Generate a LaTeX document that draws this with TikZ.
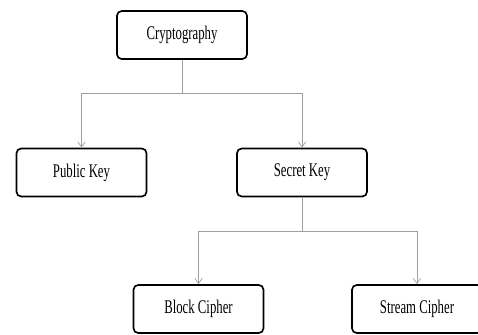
\documentclass[tikz,border=0pt]{standalone}
\usepackage{fontspec}
\setmainfont{Liberation Serif}[FakeStretch=0.66]
\usepackage{tikz}
\usetikzlibrary{arrows.meta,positioning}

\begin{document}
\begin{tikzpicture}[x=0.03cm,y=-0.03cm,
    box/.style={rounded corners=4pt,draw=black,line width=1.4pt,fill=white,align=center,font=\fontsize{16.5}{18}\selectfont,minimum width=3.9cm,minimum height=1.44cm,inner sep=0pt},
    link/.style={draw=gray!75,line width=0.6pt},
    arr/.style={link,-{Straight Barb[length=1.6mm,width=2.2mm]}}]
   \useasboundingbox (0,0) rectangle (478,334);
   \node[box] (crypto) at (182,35) {Cryptography};
   \node[box] (pub)    at (81.5,172.5) {Public Key};
   \node[box] (sec)    at (302,172.5) {Secret Key};
   \node[box] (block)  at (198.5,309) {Block Cipher};
   \node[box] (stream) at (417,309) {Stream Cipher};
   % forks
   \coordinate (f1) at (crypto.south |- 0,93);
   \coordinate (f2) at (sec.south |- 0,231);
   \draw[link] (crypto.south) -- (f1);
   \draw[arr] (f1) -| (pub.north);
   \draw[arr] (f1) -| (sec.north);
   \draw[link] (sec.south) -- (f2);
   \draw[arr] (f2) -| (block.north);
   \draw[arr] (f2) -| (stream.north);
\end{tikzpicture}
\end{document}
